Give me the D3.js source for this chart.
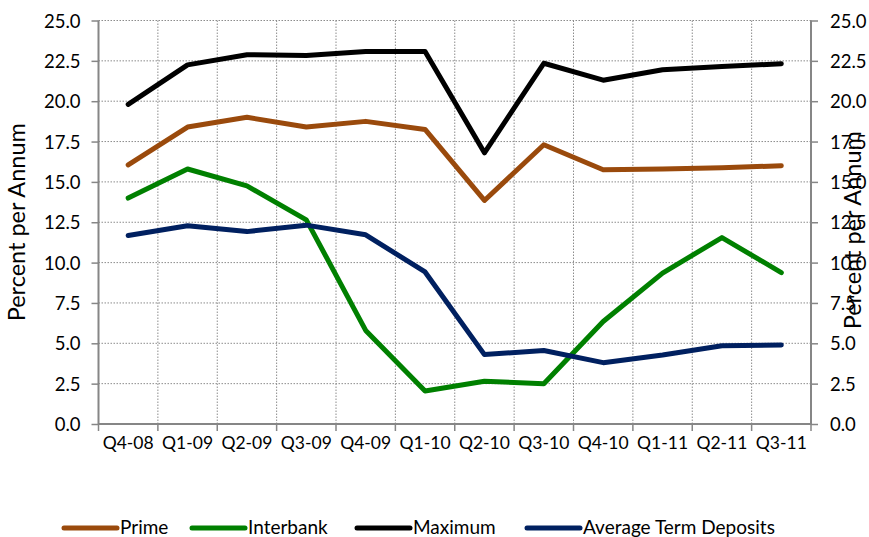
<!DOCTYPE html>
<html><head><meta charset="utf-8">
<script src="https://cdn.jsdelivr.net/npm/d3@7/dist/d3.min.js"></script>
<style>body{margin:0;background:#fff}text{font-family:Lato,"Open Sans",sans-serif;fill:#000}</style>
</head><body><svg id="c" width="869" height="537"></svg>
<script>
const categories = ["Q4-08","Q1-09","Q2-09","Q3-09","Q4-09","Q1-10","Q2-10","Q3-10","Q4-10","Q1-11","Q2-11","Q3-11"];
const prime    = [16.05,18.4,19.0,18.4,18.75,18.25,13.85,17.3,15.75,15.8,15.87,16.0];
const interbank= [14.0,15.8,14.75,12.65,5.8,2.05,2.65,2.5,6.35,9.35,11.55,9.38];
const maximum  = [19.8,22.25,22.88,22.83,23.08,23.08,16.8,22.35,21.3,21.95,22.15,22.32];
const avgTerm  = [11.68,12.28,11.92,12.32,11.72,9.42,4.3,4.55,3.8,4.28,4.85,4.9];
const yTicks = [0,2.5,5,7.5,10,12.5,15,17.5,20,22.5,25];
const seriesNames = ["Prime","Interbank","Maximum","Average Term Deposits"];
const seriesColors = ["#9a4a0c","#008000","#000000","#002060"];
const seriesData = [prime, interbank, maximum, avgTerm];

const svg = d3.select("#c");
const L=98.5, R=811, T=20.5, B=424;
const x = d3.scaleBand().domain(categories).range([L,R]);
const y = d3.scaleLinear().domain([0,25]).range([B,T]);
const grid = "#8c8c8c", axisC="#868686";

svg.append("g").selectAll("line").data(yTicks.filter(d=>d>0)).join("line")
  .attr("x1",L).attr("x2",R).attr("y1",d=>y(d)).attr("y2",d=>y(d))
  .attr("stroke",grid).attr("stroke-width",1).attr("stroke-dasharray","1.5,1.5");
svg.append("g").selectAll("line").data(categories.slice(1)).join("line")
  .attr("x1",d=>x(d)).attr("x2",d=>x(d)).attr("y1",T).attr("y2",B)
  .attr("stroke",grid).attr("stroke-width",1).attr("stroke-dasharray","1.5,1.5");

const fmt = d3.format(".1f");
const yl = svg.append("g").attr("transform",`translate(${L},0)`)
  .call(d3.axisLeft(y).tickValues(yTicks).tickFormat(fmt).tickSize(7).tickPadding(11));
const yr = svg.append("g").attr("transform",`translate(${R},0)`)
  .call(d3.axisRight(y).tickValues(yTicks).tickFormat(fmt).tickSize(7).tickPadding(12));
const xb = d3.axisBottom(x).tickSize(0).tickPadding(13);
const xg = svg.append("g").attr("transform",`translate(0,${B})`).call(xb);
svg.append("g").selectAll("line").data(categories.concat(["end"])).join("line")
  .attr("x1",(d,i)=>i<categories.length?x(d):R).attr("x2",(d,i)=>i<categories.length?x(d):R)
  .attr("y1",B).attr("y2",B+7).attr("stroke",axisC).attr("stroke-width",1.5);
[yl,yr,xg].forEach(g=>{
  g.selectAll(".domain").attr("stroke",axisC).attr("stroke-width",2);
  g.selectAll(".tick line").attr("stroke",axisC).attr("stroke-width",1.5);
  g.selectAll("text").attr("font-size",18.5).attr("fill","#000").style("font-family","Lato,'Open Sans',sans-serif");
});
xg.selectAll("text").attr("font-size",17.5);
yl.selectAll("text").attr("dy","0.36em");
yr.selectAll("text").attr("dy","0.36em");
yl.select(".domain").attr("d",`M0,${T}V${B}`);
yr.select(".domain").attr("d",`M0,${T}V${B}`);
xg.select(".domain").attr("d",`M${L},0H${R}`);

svg.append("text").attr("transform",`translate(25,${(T+B)/2}) rotate(-90)`)
  .attr("text-anchor","middle").attr("font-size",23.5).text("Percent per Annum");
svg.append("text").attr("transform",`translate(861,${(T+B)/2+8}) rotate(-90)`)
  .attr("text-anchor","middle").attr("font-size",23.5).text("Percent per Annum");

const line = d3.line().x((d,i)=>x(categories[i])+x.bandwidth()/2).y(d=>y(d));
svg.append("g").selectAll("path").data(seriesData).join("path")
  .attr("d",line).attr("fill","none").attr("stroke",(d,i)=>seriesColors[i])
  .attr("stroke-width",5).attr("stroke-linejoin","round").attr("stroke-linecap","round");

const legX = [62,190,355,525];
const lg = svg.append("g").selectAll("g").data(seriesNames).join("g")
  .attr("transform",(d,i)=>`translate(${legX[i]},528)`);
lg.append("line").attr("x1",2).attr("x2",55).attr("y1",0).attr("y2",0)
  .attr("stroke",(d,i)=>seriesColors[i]).attr("stroke-width",5).attr("stroke-linecap","round");
lg.append("text").attr("x",58).attr("y",6).attr("font-size",19).text(d=>d);
</script></body></html>
